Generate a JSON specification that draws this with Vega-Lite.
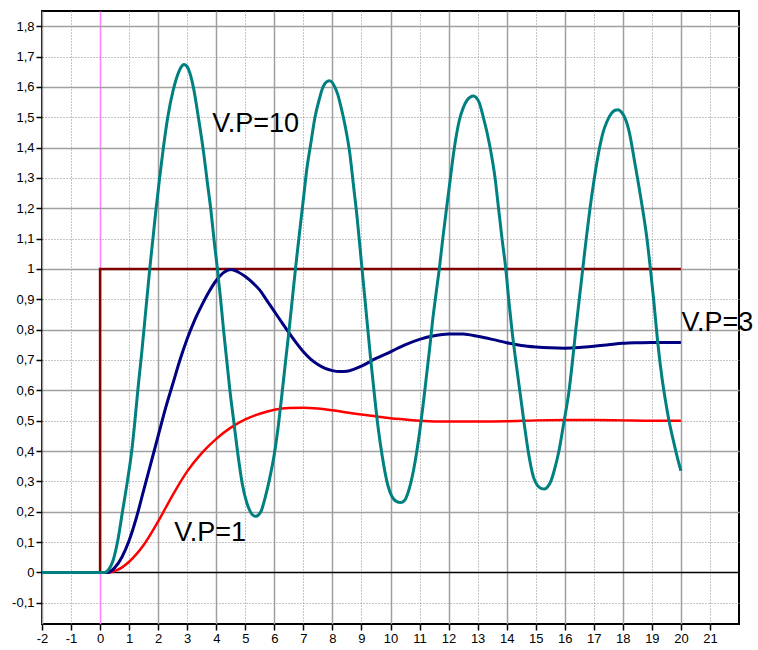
{
  "$schema": "https://vega.github.io/schema/vega-lite/v6.json",
  "width": 697,
  "height": 613,
  "autosize": {"type": "none"},
  "padding": {"left": 42, "top": 11, "right": 19, "bottom": 26},
  "background": "white",
  "config": {
    "view": {"stroke": "#000000", "strokeWidth": 2}
  },
  "datasets": {
    "curves": [
      {"s": "in", "k": 0, "x": 0, "y": 0},
      {"s": "in", "k": 1, "x": 0, "y": 1},
      {"s": "in", "k": 2, "x": 20, "y": 1},

      {"s": "1", "x": -2, "y": 0}, {"s": "1", "x": 0.3, "y": 0}, {"s": "1", "x": 0.6, "y": 0.008},
      {"s": "1", "x": 1.0, "y": 0.035}, {"s": "1", "x": 1.5, "y": 0.09}, {"s": "1", "x": 2.0, "y": 0.168},
      {"s": "1", "x": 2.5, "y": 0.255}, {"s": "1", "x": 3.0, "y": 0.333}, {"s": "1", "x": 3.5, "y": 0.393},
      {"s": "1", "x": 4.0, "y": 0.44}, {"s": "1", "x": 4.5, "y": 0.477}, {"s": "1", "x": 5.0, "y": 0.504},
      {"s": "1", "x": 5.5, "y": 0.523}, {"s": "1", "x": 6.0, "y": 0.536}, {"s": "1", "x": 6.5, "y": 0.542},
      {"s": "1", "x": 7.0, "y": 0.543}, {"s": "1", "x": 7.5, "y": 0.54}, {"s": "1", "x": 8.0, "y": 0.534},
      {"s": "1", "x": 8.5, "y": 0.527}, {"s": "1", "x": 9.0, "y": 0.52}, {"s": "1", "x": 9.5, "y": 0.514},
      {"s": "1", "x": 10.0, "y": 0.508}, {"s": "1", "x": 10.5, "y": 0.504}, {"s": "1", "x": 11.0, "y": 0.5},
      {"s": "1", "x": 12.0, "y": 0.497}, {"s": "1", "x": 13.0, "y": 0.497}, {"s": "1", "x": 14.0, "y": 0.498},
      {"s": "1", "x": 15.0, "y": 0.501}, {"s": "1", "x": 16.0, "y": 0.502}, {"s": "1", "x": 17.0, "y": 0.502},
      {"s": "1", "x": 18.0, "y": 0.501}, {"s": "1", "x": 19.0, "y": 0.5}, {"s": "1", "x": 20.0, "y": 0.5},

      {"s": "3", "x": -2, "y": 0}, {"s": "3", "x": 0.25, "y": 0}, {"s": "3", "x": 0.5, "y": 0.015},
      {"s": "3", "x": 0.75, "y": 0.05}, {"s": "3", "x": 1.0, "y": 0.105}, {"s": "3", "x": 1.25, "y": 0.18},
      {"s": "3", "x": 1.5, "y": 0.27}, {"s": "3", "x": 1.75, "y": 0.36}, {"s": "3", "x": 2.0, "y": 0.45},
      {"s": "3", "x": 2.25, "y": 0.54}, {"s": "3", "x": 2.5, "y": 0.62}, {"s": "3", "x": 2.75, "y": 0.70},
      {"s": "3", "x": 3.0, "y": 0.77}, {"s": "3", "x": 3.25, "y": 0.83}, {"s": "3", "x": 3.5, "y": 0.88},
      {"s": "3", "x": 3.75, "y": 0.925}, {"s": "3", "x": 4.0, "y": 0.962}, {"s": "3", "x": 4.25, "y": 0.988},
      {"s": "3", "x": 4.5, "y": 0.998}, {"s": "3", "x": 4.75, "y": 0.99}, {"s": "3", "x": 5.0, "y": 0.975},
      {"s": "3", "x": 5.25, "y": 0.955}, {"s": "3", "x": 5.5, "y": 0.93}, {"s": "3", "x": 5.75, "y": 0.895},
      {"s": "3", "x": 6.0, "y": 0.86}, {"s": "3", "x": 6.25, "y": 0.825}, {"s": "3", "x": 6.5, "y": 0.79},
      {"s": "3", "x": 6.75, "y": 0.757}, {"s": "3", "x": 7.0, "y": 0.727}, {"s": "3", "x": 7.25, "y": 0.703},
      {"s": "3", "x": 7.5, "y": 0.685}, {"s": "3", "x": 7.75, "y": 0.672}, {"s": "3", "x": 8.0, "y": 0.665},
      {"s": "3", "x": 8.25, "y": 0.662}, {"s": "3", "x": 8.5, "y": 0.663}, {"s": "3", "x": 8.75, "y": 0.67},
      {"s": "3", "x": 9.0, "y": 0.68}, {"s": "3", "x": 9.5, "y": 0.705}, {"s": "3", "x": 10.0, "y": 0.727},
      {"s": "3", "x": 10.5, "y": 0.75}, {"s": "3", "x": 11.0, "y": 0.768}, {"s": "3", "x": 11.5, "y": 0.78},
      {"s": "3", "x": 12.0, "y": 0.786}, {"s": "3", "x": 12.5, "y": 0.786}, {"s": "3", "x": 13.0, "y": 0.778},
      {"s": "3", "x": 13.5, "y": 0.768}, {"s": "3", "x": 14.0, "y": 0.757}, {"s": "3", "x": 14.5, "y": 0.748},
      {"s": "3", "x": 15.0, "y": 0.743}, {"s": "3", "x": 15.5, "y": 0.74}, {"s": "3", "x": 16.0, "y": 0.739},
      {"s": "3", "x": 16.5, "y": 0.741}, {"s": "3", "x": 17.0, "y": 0.745}, {"s": "3", "x": 17.5, "y": 0.75},
      {"s": "3", "x": 18.0, "y": 0.755}, {"s": "3", "x": 18.5, "y": 0.757}, {"s": "3", "x": 19.0, "y": 0.758},
      {"s": "3", "x": 19.5, "y": 0.758}, {"s": "3", "x": 20.0, "y": 0.758},

      {"s": "10", "x": -2, "y": 0}, {"s": "10", "x": 0, "y": 0}, {"s": "10", "x": 0.15, "y": 0},
      {"s": "10", "x": 0.3, "y": 0.01}, {"s": "10", "x": 0.45, "y": 0.04}, {"s": "10", "x": 0.6, "y": 0.1},
      {"s": "10", "x": 0.77, "y": 0.2}, {"s": "10", "x": 0.94, "y": 0.3}, {"s": "10", "x": 1.09, "y": 0.4},
      {"s": "10", "x": 1.2, "y": 0.5}, {"s": "10", "x": 1.32, "y": 0.62}, {"s": "10", "x": 1.43, "y": 0.72},
      {"s": "10", "x": 1.53, "y": 0.82}, {"s": "10", "x": 1.62, "y": 0.91}, {"s": "10", "x": 1.71, "y": 1.0},
      {"s": "10", "x": 1.82, "y": 1.1}, {"s": "10", "x": 1.93, "y": 1.2}, {"s": "10", "x": 2.05, "y": 1.3},
      {"s": "10", "x": 2.18, "y": 1.4}, {"s": "10", "x": 2.33, "y": 1.5}, {"s": "10", "x": 2.52, "y": 1.59},
      {"s": "10", "x": 2.62, "y": 1.625}, {"s": "10", "x": 2.72, "y": 1.652}, {"s": "10", "x": 2.81, "y": 1.668},
      {"s": "10", "x": 2.89, "y": 1.674}, {"s": "10", "x": 2.97, "y": 1.67}, {"s": "10", "x": 3.05, "y": 1.657},
      {"s": "10", "x": 3.13, "y": 1.633}, {"s": "10", "x": 3.21, "y": 1.6}, {"s": "10", "x": 3.4, "y": 1.49},
      {"s": "10", "x": 3.57, "y": 1.38}, {"s": "10", "x": 3.7, "y": 1.28}, {"s": "10", "x": 3.82, "y": 1.19},
      {"s": "10", "x": 3.93, "y": 1.09}, {"s": "10", "x": 4.04, "y": 1.0}, {"s": "10", "x": 4.15, "y": 0.9},
      {"s": "10", "x": 4.25, "y": 0.8}, {"s": "10", "x": 4.36, "y": 0.7}, {"s": "10", "x": 4.47, "y": 0.6},
      {"s": "10", "x": 4.6, "y": 0.5}, {"s": "10", "x": 4.73, "y": 0.4}, {"s": "10", "x": 4.9, "y": 0.29},
      {"s": "10", "x": 5.05, "y": 0.23}, {"s": "10", "x": 5.16, "y": 0.203}, {"s": "10", "x": 5.27, "y": 0.188},
      {"s": "10", "x": 5.36, "y": 0.185}, {"s": "10", "x": 5.45, "y": 0.189}, {"s": "10", "x": 5.55, "y": 0.203},
      {"s": "10", "x": 5.68, "y": 0.245}, {"s": "10", "x": 5.84, "y": 0.31}, {"s": "10", "x": 6.0, "y": 0.39},
      {"s": "10", "x": 6.12, "y": 0.47}, {"s": "10", "x": 6.23, "y": 0.56}, {"s": "10", "x": 6.38, "y": 0.69},
      {"s": "10", "x": 6.52, "y": 0.81}, {"s": "10", "x": 6.64, "y": 0.92}, {"s": "10", "x": 6.75, "y": 1.02},
      {"s": "10", "x": 6.88, "y": 1.13}, {"s": "10", "x": 7.0, "y": 1.23}, {"s": "10", "x": 7.12, "y": 1.33},
      {"s": "10", "x": 7.25, "y": 1.41}, {"s": "10", "x": 7.4, "y": 1.5}, {"s": "10", "x": 7.55, "y": 1.56},
      {"s": "10", "x": 7.65, "y": 1.593}, {"s": "10", "x": 7.75, "y": 1.612}, {"s": "10", "x": 7.89, "y": 1.62},
      {"s": "10", "x": 7.98, "y": 1.616}, {"s": "10", "x": 8.08, "y": 1.6}, {"s": "10", "x": 8.18, "y": 1.576},
      {"s": "10", "x": 8.28, "y": 1.54}, {"s": "10", "x": 8.42, "y": 1.48}, {"s": "10", "x": 8.6, "y": 1.38},
      {"s": "10", "x": 8.72, "y": 1.28}, {"s": "10", "x": 8.85, "y": 1.17}, {"s": "10", "x": 9.0, "y": 1.02},
      {"s": "10", "x": 9.1, "y": 0.92}, {"s": "10", "x": 9.2, "y": 0.82}, {"s": "10", "x": 9.31, "y": 0.71},
      {"s": "10", "x": 9.43, "y": 0.6}, {"s": "10", "x": 9.57, "y": 0.48}, {"s": "10", "x": 9.72, "y": 0.38},
      {"s": "10", "x": 9.9, "y": 0.29}, {"s": "10", "x": 10.05, "y": 0.25}, {"s": "10", "x": 10.2, "y": 0.234},
      {"s": "10", "x": 10.35, "y": 0.23}, {"s": "10", "x": 10.48, "y": 0.237}, {"s": "10", "x": 10.6, "y": 0.262},
      {"s": "10", "x": 10.8, "y": 0.34}, {"s": "10", "x": 11.0, "y": 0.46},
      {"s": "10", "x": 11.12, "y": 0.55}, {"s": "10", "x": 11.23, "y": 0.64}, {"s": "10", "x": 11.35, "y": 0.74},
      {"s": "10", "x": 11.45, "y": 0.83}, {"s": "10", "x": 11.57, "y": 0.92}, {"s": "10", "x": 11.68, "y": 1.0},
      {"s": "10", "x": 11.8, "y": 1.1}, {"s": "10", "x": 11.93, "y": 1.2}, {"s": "10", "x": 12.05, "y": 1.29},
      {"s": "10", "x": 12.17, "y": 1.38}, {"s": "10", "x": 12.37, "y": 1.49}, {"s": "10", "x": 12.5, "y": 1.53},
      {"s": "10", "x": 12.62, "y": 1.554}, {"s": "10", "x": 12.74, "y": 1.566}, {"s": "10", "x": 12.85, "y": 1.57},
      {"s": "10", "x": 12.95, "y": 1.565}, {"s": "10", "x": 13.06, "y": 1.547}, {"s": "10", "x": 13.17, "y": 1.51},
      {"s": "10", "x": 13.43, "y": 1.4}, {"s": "10", "x": 13.6, "y": 1.3}, {"s": "10", "x": 13.72, "y": 1.2},
      {"s": "10", "x": 13.84, "y": 1.1}, {"s": "10", "x": 13.97, "y": 1.0}, {"s": "10", "x": 14.07, "y": 0.9},
      {"s": "10", "x": 14.18, "y": 0.8}, {"s": "10", "x": 14.31, "y": 0.7}, {"s": "10", "x": 14.45, "y": 0.6},
      {"s": "10", "x": 14.59, "y": 0.5}, {"s": "10", "x": 14.74, "y": 0.4}, {"s": "10", "x": 14.92, "y": 0.315},
      {"s": "10", "x": 15.05, "y": 0.288}, {"s": "10", "x": 15.18, "y": 0.277}, {"s": "10", "x": 15.3, "y": 0.275},
      {"s": "10", "x": 15.42, "y": 0.283}, {"s": "10", "x": 15.54, "y": 0.305},
      {"s": "10", "x": 15.65, "y": 0.34}, {"s": "10", "x": 15.8, "y": 0.4}, {"s": "10", "x": 15.98, "y": 0.5},
      {"s": "10", "x": 16.15, "y": 0.6}, {"s": "10", "x": 16.27, "y": 0.7}, {"s": "10", "x": 16.38, "y": 0.8},
      {"s": "10", "x": 16.5, "y": 0.9}, {"s": "10", "x": 16.62, "y": 1.0}, {"s": "10", "x": 16.74, "y": 1.1},
      {"s": "10", "x": 16.87, "y": 1.2}, {"s": "10", "x": 17.02, "y": 1.3}, {"s": "10", "x": 17.2, "y": 1.4},
      {"s": "10", "x": 17.32, "y": 1.45}, {"s": "10", "x": 17.45, "y": 1.485}, {"s": "10", "x": 17.6, "y": 1.512},
      {"s": "10", "x": 17.73, "y": 1.523}, {"s": "10", "x": 17.84, "y": 1.525}, {"s": "10", "x": 17.95, "y": 1.517},
      {"s": "10", "x": 18.08, "y": 1.496}, {"s": "10", "x": 18.2, "y": 1.46}, {"s": "10", "x": 18.43, "y": 1.34},
      {"s": "10", "x": 18.66, "y": 1.21}, {"s": "10", "x": 18.83, "y": 1.1}, {"s": "10", "x": 18.95, "y": 1.0},
      {"s": "10", "x": 19.06, "y": 0.9}, {"s": "10", "x": 19.2, "y": 0.76}, {"s": "10", "x": 19.35, "y": 0.64},
      {"s": "10", "x": 19.47, "y": 0.565}, {"s": "10", "x": 19.59, "y": 0.5}, {"s": "10", "x": 19.75, "y": 0.43},
      {"s": "10", "x": 19.9, "y": 0.37}, {"s": "10", "x": 20.0, "y": 0.335}
    ],
    "labels": [
      {"label": "V.P=10", "x": 3.86, "y": 1.45},
      {"label": "V.P=3", "x": 20.02, "y": 0.795},
      {"label": "V.P=1", "x": 2.55, "y": 0.102}
    ]
  },
  "encoding": {
    "x": {
      "field": "x",
      "type": "quantitative",
      "scale": {"domain": [-2, 22], "nice": false, "zero": false},
      "axis": {
        "title": null,
        "values": [-2, -1, 0, 1, 2, 3, 4, 5, 6, 7, 8, 9, 10, 11, 12, 13, 14, 15, 16, 17, 18, 19, 20, 21],
        "domain": false,
        "ticks": true,
        "tickColor": "#000000",
        "tickSize": 6,
        "tickWidth": 1.5,
        "labelFont": "Liberation Sans",
        "labelFontSize": 13,
        "labelColor": "#000000",
        "labelPadding": 2,
        "labelFlush": false,
        "labelOverlap": false,
        "labelExpr": "(datum.value < 0 ? '-' : '') + format(abs(datum.value), 'd')",
        "grid": true,
        "gridColor": {"condition": [{"test": "datum.value === 0", "value": "#ff80ff"}, {"test": "datum.value % 2 !== 0", "value": "#8c8c8c"}], "value": "#a0a0a0"},
        "gridDash": {"condition": {"test": "datum.value % 2 !== 0", "value": [1, 2]}, "value": []},
        "gridWidth": {"condition": {"test": "datum.value % 2 !== 0", "value": 1}, "value": 1.5}
      }
    },
    "y": {
      "field": "y",
      "type": "quantitative",
      "scale": {"domain": [-0.17, 1.85], "nice": false, "zero": false},
      "axis": {
        "title": null,
        "values": [-0.1, 0, 0.1, 0.2, 0.3, 0.4, 0.5, 0.6, 0.7, 0.8, 0.9, 1, 1.1, 1.2, 1.3, 1.4, 1.5, 1.6, 1.7, 1.8],
        "domain": false,
        "ticks": true,
        "tickColor": "#000000",
        "tickSize": 6,
        "tickWidth": 1.5,
        "labelFont": "Liberation Sans",
        "labelFontSize": 13,
        "labelColor": "#000000",
        "labelPadding": 2,
        "labelFlush": false,
        "labelOverlap": false,
        "labelExpr": "(datum.value < 0 ? '-' : '') + replace(format(abs(datum.value), '.1~f'), '.', ',')",
        "grid": true,
        "gridColor": {"condition": [{"test": "abs(datum.value) < 0.001", "value": "#000000"}, {"test": "round(datum.value * 10) % 2 !== 0", "value": "#8c8c8c"}], "value": "#a0a0a0"},
        "gridDash": {"condition": {"test": "round(datum.value * 10) % 2 !== 0", "value": [1, 2]}, "value": []},
        "gridWidth": {"condition": {"test": "round(datum.value * 10) % 2 !== 0", "value": 1}, "value": 1.5}
      }
    }
  },
  "layer": [
    {
      "data": {"name": "curves"},
      "transform": [{"filter": "datum.s === 'in'"}],
      "mark": {"type": "line", "color": "#800000", "strokeWidth": 2.5},
      "encoding": {"order": {"field": "k", "type": "quantitative"}}
    },
    {
      "data": {"name": "curves"},
      "transform": [{"filter": "datum.s === '1'"}],
      "mark": {"type": "line", "color": "#ff0000", "strokeWidth": 2.5, "interpolate": "monotone"},
      "encoding": {}
    },
    {
      "data": {"name": "curves"},
      "transform": [{"filter": "datum.s === '3'"}],
      "mark": {"type": "line", "color": "#000080", "strokeWidth": 3, "interpolate": "monotone"},
      "encoding": {}
    },
    {
      "data": {"name": "curves"},
      "transform": [{"filter": "datum.s === '10'"}],
      "mark": {"type": "line", "color": "#008080", "strokeWidth": 3, "interpolate": "monotone"},
      "encoding": {}
    },
    {
      "data": {"name": "labels"},
      "mark": {"type": "text", "align": "left", "baseline": "alphabetic", "font": "Liberation Sans", "fontSize": 27, "color": "#000000"},
      "encoding": {"text": {"field": "label", "type": "nominal"}}
    }
  ]
}
